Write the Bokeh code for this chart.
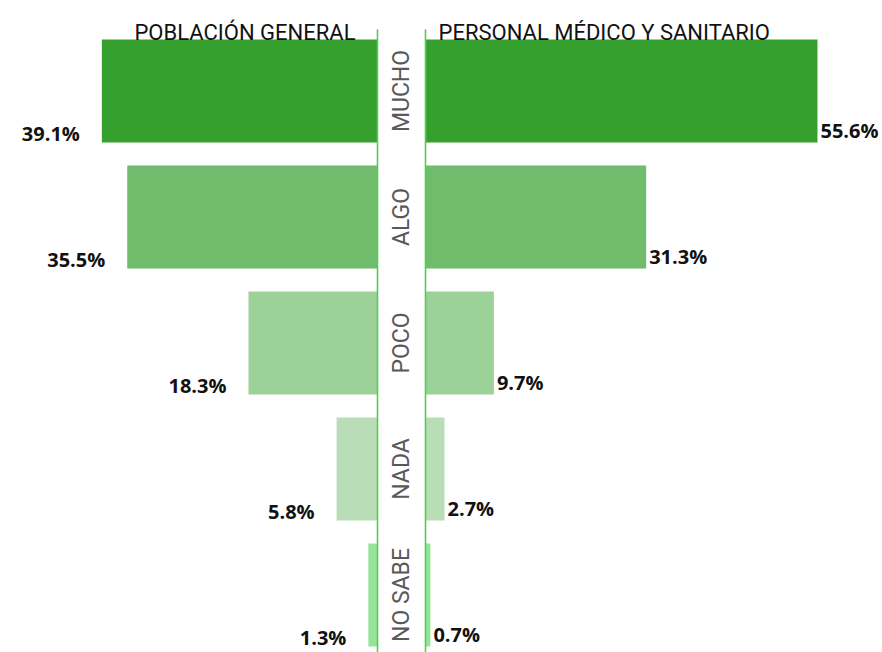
import math
from bokeh.plotting import figure
from bokeh.models import Range1d
from bokeh.embed import file_html
from bokeh.resources import INLINE
from bokeh.core.properties import value

categories = ["MUCHO", "ALGO", "POCO", "NADA", "NO SABE"]
poblacion_general = [39.1, 35.5, 18.3, 5.8, 1.3]
personal_sanitario = [55.6, 31.3, 9.7, 2.7, 0.7]
colors = ["#36a02f", "#71bc6c", "#9cd198", "#b9ddb6", "#98e39a"]
headers = ["POBLACIÓN GENERAL", "PERSONAL MÉDICO Y SANITARIO"]

PX = 7.05          # pixels per percent
W, H = 882, 652
CX = 401           # screen x of the centre
BAND = 126         # pixels per category
Y0 = 90.5          # screen y of first category centre
GAP = 24 / PX
BAR_H = 103 / BAND

n = len(categories)
idx = list(range(n))

p = figure(width=W, height=H, output_backend="svg", toolbar_location=None,
           x_range=Range1d(-CX / PX, (W - CX) / PX),
           y_range=Range1d((H - Y0) / BAND, -Y0 / BAND),
           min_border=0, min_border_left=0, min_border_right=0,
           min_border_top=0, min_border_bottom=0)
p.outline_line_color = None
p.axis.visible = False
p.grid.visible = False
p.background_fill_color = "white"
p.border_fill_color = "white"

left_edge = [-GAP - v for v in poblacion_general]
right_edge = [GAP + v for v in personal_sanitario]

p.hbar(y=idx, left=left_edge, right=[-GAP] * n, height=BAR_H,
       fill_color=colors, line_color=None)
p.hbar(y=idx, left=[GAP] * n, right=right_edge, height=BAR_H,
       fill_color=colors, line_color=None)

# centre lines
top_y = (29 - Y0) / BAND
bot_y = (H - Y0 + 20) / BAND
p.segment(x0=[-GAP, GAP], y0=[top_y] * 2, x1=[-GAP, GAP], y1=[bot_y] * 2,
          line_color="#50d050", line_width=1.6)

# category labels
p.text(x=[0] * n, y=idx, text=categories, angle=math.pi / 2,
       text_align="center", text_baseline="middle",
       text_font=value("Roboto"), text_font_size="23px", text_color="#595959")

# value labels
left_lbl = [f"{v:.1f}%" for v in poblacion_general]
right_lbl = [f"{v:.1f}%" for v in personal_sanitario]
p.text(x=left_edge, y=[i + BAR_H / 2 - 9 / BAND for i in idx], text=left_lbl,
       x_offset=-22, text_align="right", text_baseline="alphabetic",
       text_font=value("Open Sans"), text_font_style="bold",
       text_font_size="20px", text_color="#111111")
p.text(x=right_edge, y=[i + BAR_H / 2 - 12 / BAND for i in idx], text=right_lbl,
       x_offset=3, text_align="left", text_baseline="alphabetic",
       text_font=value("Open Sans"), text_font_style="bold",
       text_font_size="20px", text_color="#111111")

# headers
hy = (32 - Y0) / BAND
p.text(x=[-GAP - 22 / PX], y=[hy], text=[headers[0]], text_align="right",
       text_baseline="alphabetic", text_font=value("Roboto"),
       text_font_size="22px", text_color="#111111")
p.text(x=[GAP + 13 / PX], y=[hy], text=[headers[1]], text_align="left",
       text_baseline="alphabetic", text_font=value("Roboto"),
       text_font_size="22px", text_color="#111111")

open("out.html", "w").write(file_html(p, INLINE))
